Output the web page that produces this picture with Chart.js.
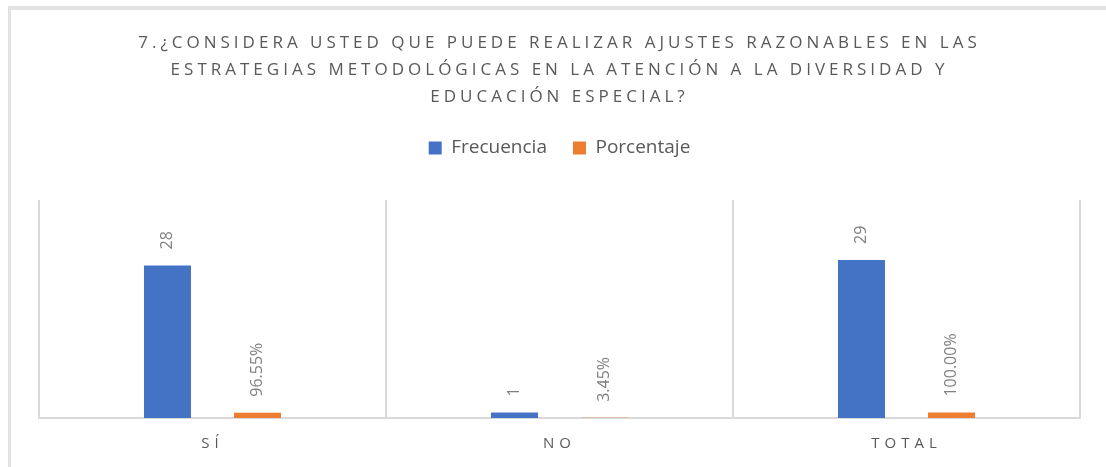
<!DOCTYPE html>
<html>
<head>
<meta charset="utf-8">
<script src="https://cdn.jsdelivr.net/npm/chart.js@4.4.0/dist/chart.umd.min.js"></script>
<style>
body{margin:0;background:#fff;}
#frame{position:absolute;left:8px;top:6px;width:1098px;height:461px;box-sizing:border-box;border-top:4px solid #e2e2e2;border-left:3px solid #e2e2e2;}
canvas{display:block;}
</style>
</head>
<body>
<div id="frame"><canvas id="chart" width="1095" height="457"></canvas></div>
<script>
var categorias=["SÍ", "NO", "TOTAL"];
var frecuencia=[28, 1, 29];
var porcentaje=[0.9655, 0.0345, 1];
var titulo=[
  "7.¿CONSIDERA USTED QUE PUEDE REALIZAR AJUSTES RAZONABLES EN LAS",
  "ESTRATEGIAS METODOLÓGICAS EN LA ATENCIÓN A LA DIVERSIDAD Y",
  "EDUCACIÓN ESPECIAL?"
];

Chart.defaults.font.family="'Open Sans', sans-serif";

// etiquetas giradas encima de cada barra + espaciado de letras
var etiquetas={
  id: "etiquetas",
  beforeInit: function(chart){
    var tb=chart.titleBlock;
    var drawTitle=tb.draw;
    tb.draw=function(){
      var c=this.ctx;
      c.save();
      c.letterSpacing="4px";
      drawTitle.apply(this, arguments);
      c.restore();
    };
    var lg=chart.legend;
    var fitLegend=lg.fit;
    lg.fit=function(){
      fitLegend.apply(this, arguments);
      this.height+=32.5;
    };
  },
  afterDatasetsDraw: function(chart){
    var ctx=chart.ctx;
    ctx.save();
    ctx.font="16px 'Open Sans'";
    ctx.fillStyle="#808080";
    ctx.textAlign="left";
    ctx.textBaseline="middle";
    chart.data.datasets.forEach(function(ds, i){
      chart.getDatasetMeta(i).data.forEach(function(bar, j){
        var txt=(i==0) ? String(ds.data[j]) : (ds.data[j]*100).toFixed(2)+"%";
        ctx.save();
        ctx.translate(bar.x, bar.y-16);
        ctx.rotate(-Math.PI/2);
        ctx.fillText(txt, 0, 0);
        ctx.restore();
      });
    });
    ctx.restore();
    ctx.letterSpacing="5px";
  },
  afterDraw: function(chart){
    chart.ctx.letterSpacing="0px";
  }
};

new Chart(document.getElementById("chart"), {
  type: "bar",
  data: {
    labels: categorias,
    datasets: [
      {label: "Frecuencia", data: frecuencia, backgroundColor: "#4472C4", categoryPercentage: 0.519, barPercentage: 0.522},
      {label: "Porcentaje", data: porcentaje, backgroundColor: "#ED7D31", categoryPercentage: 0.519, barPercentage: 0.522}
    ]
  },
  options: {
    responsive: false,
    animation: false,
    layout: {padding: {left: 28, right: 26, top: 0, bottom: -2}},
    plugins: {
      title: {
        display: true,
        text: titulo,
        color: "#595959",
        font: {size: 17, weight: "normal", lineHeight: 27/17},
        padding: {top: 19.5, bottom: 2}
      },
      legend: {
        position: "top",
        labels: {boxWidth: 13, boxHeight: 13, padding: 26, color: "#595959", font: {size: 19}}
      },
      tooltip: {enabled: false}
    },
    scales: {
      x: {
        grid: {offset: true, color: "#d9d9d9", lineWidth: 2, drawTicks: false},
        border: {color: "#d9d9d9", width: 2},
        ticks: {z: 1, padding: 18, color: "#595959", font: {size: 15, lineHeight: 1}}
      },
      y: {display: false, min: 0, max: 40}
    }
  },
  plugins: [etiquetas]
});
</script>
</body>
</html>
